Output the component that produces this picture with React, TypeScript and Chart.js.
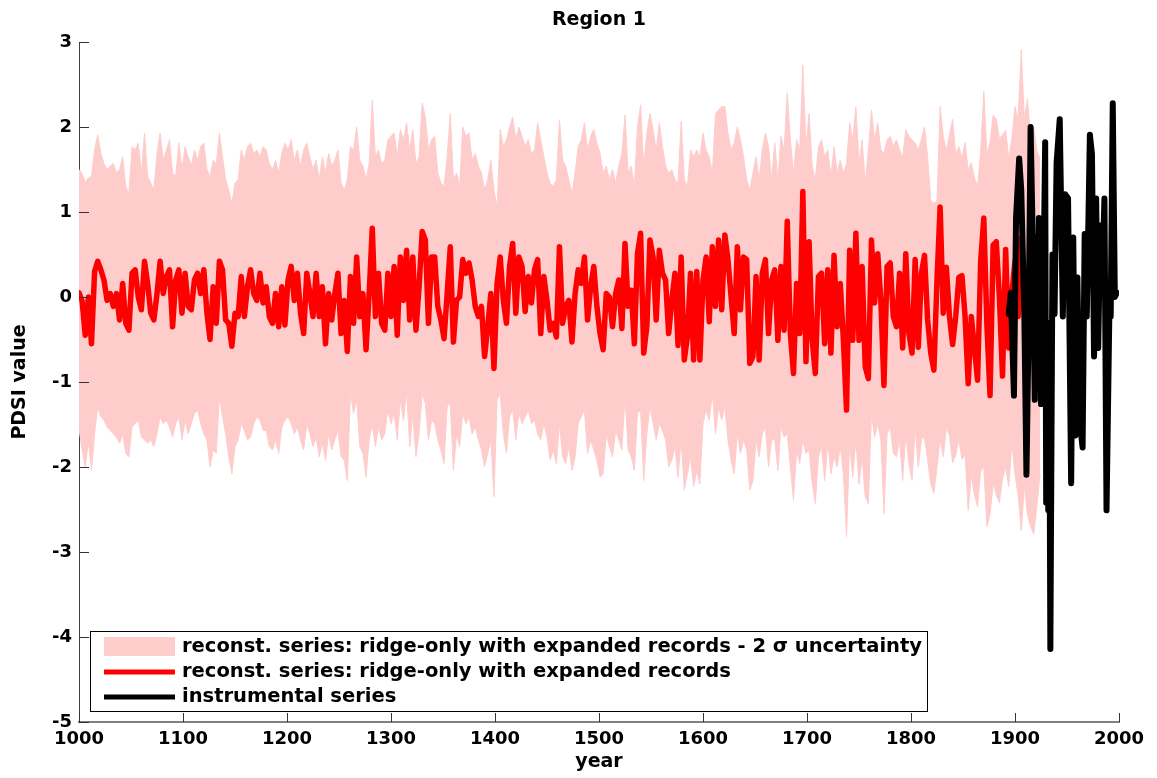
import React, { useEffect, useRef } from "react";
import { Chart, registerables } from "chart.js";

Chart.register(...registerables);

// Reconstruction sampled every 3 years starting at 1000
const RECON_START = 1000;
const RECON_STEP = 3;

// Reconstructed PDSI (red line), 1000-1906
const reconValues = [
  0.05, -0.05, -0.45, 0.0, -0.55, 0.3, 0.42, 0.32, 0.2, -0.04,
  0.04, -0.11, 0.04, -0.27, 0.16, -0.31, -0.39, 0.28, 0.32, 0.0,
  -0.15, 0.42, 0.16, -0.19, -0.27, 0.04, 0.42, 0.04, 0.24, 0.32,
  -0.35, 0.2, 0.32, -0.19, 0.28, -0.11, -0.15, 0.2, 0.28, 0.04,
  0.32, -0.19, -0.5, 0.12, -0.31, 0.42, 0.32, -0.27, -0.31, -0.58,
  -0.19, -0.23, 0.24, -0.23, 0.12, 0.32, 0.04, -0.04, 0.28, -0.07,
  0.12, -0.23, -0.31, 0.04, -0.35, 0.12, -0.33, 0.2, 0.36, -0.04,
  0.28, -0.19, -0.43, 0.28, 0.04, -0.23, 0.28, -0.23, 0.12, -0.55,
  0.04, -0.27, 0.04, 0.28, -0.43, -0.04, -0.64, 0.24, -0.31, 0.47,
  -0.23, 0.04, -0.62, 0.04, 0.81, -0.23, 0.28, -0.31, -0.39, 0.28,
  -0.23, 0.36, -0.45, 0.47, -0.04, 0.55, -0.27, 0.47, -0.39, 0.12,
  0.77, 0.67, -0.31, 0.47,
  0.47, -0.11, -0.27, -0.49, 0.04, 0.59, -0.53, -0.04, 0.0, 0.44,
  0.28, 0.4, 0.2, -0.11, -0.23, -0.11, -0.7, -0.35, 0.04, -0.84,
  0.16, 0.47, -0.04, -0.31, 0.36, 0.63, -0.19, 0.47, 0.36, -0.17,
  0.24, -0.07, 0.32, 0.44, -0.43, 0.24, -0.04, -0.39, -0.31, -0.47,
  0.59, -0.31, -0.11, -0.04, -0.53, 0.04, 0.32, 0.16, 0.47, -0.27,
  0.12, 0.36, -0.11, -0.43,
  -0.62, 0.04, 0.0, -0.35, 0.04, 0.2, -0.37, 0.63, -0.11, 0.08,
  -0.55, 0.51, 0.75, -0.66, -0.35, 0.67, 0.47, -0.27, 0.55, 0.28,
  0.2, -0.43, -0.04, 0.28, -0.57, 0.47, -0.74, -0.47, 0.28, -0.74,
  0.3, -0.74, 0.2, 0.47, -0.29, 0.59, -0.11, 0.67, -0.15, 0.73,
  0.44, 0.0, -0.43, 0.59, -0.15, 0.47, 0.44, -0.78, -0.7, 0.24,
  -0.74, 0.28, 0.44, -0.43, 0.2,
  0.32, -0.51, 0.36, -0.39, 0.89, -0.43, -0.9, 0.16, -0.43, 1.24,
  -0.76, 0.65, -0.51, -0.9, 0.24, 0.28, -0.55, 0.32, -0.66, 0.49,
  -0.35, 0.16, -0.51, -1.33, 0.55, -0.51, 0.75, -0.51, 0.36, -0.82,
  -0.96, 0.67, -0.07, 0.51, -0.04, -1.04, 0.36, 0.4, -0.23, -0.35,
  0.28, -0.6, 0.51, -0.43, -0.66, 0.44, -0.59, 0.28, 0.49, -0.27,
  -0.66, -0.86, 0.2, 1.06, -0.19,
  0.35, -0.23, -0.56, -0.23, 0.23, 0.25, -0.23, -1.02, -0.23, -0.6,
  -0.98, 0.42, 0.93, -0.33, -1.16, 0.61, 0.65, 0.0, -0.93, 0.56,
  -0.6, 0.05, 0.42, -0.23, 0.7,
];

// Upper edge of the 2-sigma band, 1000-1924
const bandUpper = [
  1.5, 1.45, 1.35, 1.4, 1.42, 1.73, 1.91, 1.69, 1.57, 1.5,
  1.54, 1.57, 1.46, 1.5, 1.65, 1.3, 1.22, 1.77, 1.73, 1.81,
  1.46, 1.93, 1.42, 1.34, 1.26, 1.69, 1.93, 1.61, 1.73, 1.85,
  1.46, 1.42, 1.81, 1.5, 1.77, 1.65, 1.54, 1.73, 1.61, 1.77,
  1.81, 1.5, 1.42, 1.61, 1.57, 1.93, 1.65, 1.38, 1.26, 1.1,
  1.34, 1.38, 1.73, 1.61, 1.77, 1.81, 1.69, 1.73, 1.65, 1.77,
  1.73, 1.57, 1.5, 1.61, 1.46, 1.69, 1.81, 1.73, 1.85, 1.61,
  1.73, 1.54, 1.73, 1.81, 1.65, 1.5, 1.61, 1.38, 1.65, 1.46,
  1.69, 1.54, 1.61, 1.73, 1.34, 1.26, 1.38, 1.77, 1.73, 2.0,
  1.61, 1.54, 1.38, 1.57, 2.32, 1.65, 1.73, 1.57, 1.61, 1.85,
  1.89, 1.93, 1.65, 1.97, 1.85, 2.05, 1.73, 1.97, 1.57, 1.65,
  2.28, 2.12, 1.73, 1.85,
  1.89, 1.46, 1.34, 1.3, 1.65, 2.16, 1.38, 1.46, 1.3, 2.0,
  1.89, 1.93, 1.61, 1.69, 1.54, 1.46, 1.26, 1.38, 1.61, 1.26,
  1.06, 1.97, 1.77, 1.85, 2.0, 2.12, 1.85, 2.0, 1.89, 1.77,
  1.85, 1.69, 1.73, 2.05, 1.85, 1.65, 1.46, 1.34, 1.3, 1.38,
  2.08, 1.61, 1.54, 1.38, 1.22, 1.46, 1.77, 1.85, 2.05, 1.73,
  1.89, 1.97, 1.81, 1.69,
  1.46, 1.54, 1.38, 1.5, 1.34, 1.54, 1.69, 2.14, 1.46, 1.54,
  1.3, 2.0, 2.26, 1.54, 1.93, 2.16, 1.97, 1.73, 2.05, 1.77,
  1.54, 1.46, 1.5, 1.38, 1.34, 2.07, 1.38, 1.3, 1.73, 1.65,
  1.73, 1.65, 1.93, 1.73, 1.65, 1.46, 2.16, 2.2, 2.24, 2.24,
  1.93, 1.73, 1.81, 2.0, 1.85, 1.65, 1.38, 1.26, 1.46, 1.65,
  1.38, 1.73, 1.93, 1.77, 1.38,
  1.81, 1.38, 1.89, 1.73, 2.4, 1.85, 1.46, 1.85, 1.73, 2.73,
  1.77, 2.16, 1.54, 1.38, 1.77, 1.85, 1.65, 1.73, 1.42, 1.77,
  1.46, 1.61, 1.46, 1.57, 2.05, 1.85, 2.24, 1.57, 1.85, 1.34,
  1.73, 2.2, 1.85, 2.05, 1.73, 1.69, 1.85, 1.89, 1.77, 1.85,
  1.73, 1.65, 1.97, 1.89, 1.85, 1.81, 1.73, 1.85, 2.0, 1.65,
  1.14, 1.1, 1.14, 2.24, 1.89,
  1.72, 1.91, 2.09, 1.68, 1.77, 1.63, 1.82, 1.49, 1.58, 1.4,
  1.3, 1.72, 2.42, 1.68, 1.82, 2.14, 2.09, 1.86, 1.91, 1.96,
  1.63, 1.86, 2.24, 2.09, 2.91, 2.09, 2.33, 1.86, 2.0, 1.72,
  1.63,
];

// Lower edge of the 2-sigma band, 1000-1924
const bandLower = [
  -1.55, -1.8, -2.0, -1.7, -2.04, -1.61, -1.29, -1.41, -1.45, -1.53,
  -1.57, -1.61, -1.65, -1.72, -1.61, -1.84, -1.88, -1.53, -1.49, -1.45,
  -1.65, -1.68, -1.72, -1.68, -1.76, -1.61, -1.41, -1.49, -1.45, -1.53,
  -1.65, -1.49, -1.41, -1.68, -1.45, -1.61, -1.49, -1.37, -1.33, -1.49,
  -1.61, -1.68, -2.0, -1.8, -1.84, -1.17, -1.41, -1.61, -1.88, -2.08,
  -1.76, -1.68, -1.49, -1.57, -1.68, -1.65, -1.49, -1.41, -1.45, -1.57,
  -1.57, -1.76, -1.8, -1.68, -1.84, -1.53, -1.45, -1.41, -1.49, -1.61,
  -1.53, -1.68, -1.8, -1.49, -1.61, -1.76, -1.65, -1.88, -1.72, -1.92,
  -1.61, -1.8, -1.68, -1.57, -1.88, -1.92, -2.16, -1.13, -1.37, -1.21,
  -1.76, -1.84, -2.12, -1.68, -1.49, -1.76, -1.53, -1.68, -1.61, -1.33,
  -1.49, -1.37, -1.68, -1.21, -1.45, -1.1, -1.76, -1.37, -1.88, -1.61,
  -1.13, -1.25, -1.68, -1.45,
  -1.49, -1.68, -1.8, -1.96, -1.29, -1.25, -2.04, -1.61, -1.76, -1.37,
  -1.49, -1.41, -1.61, -1.53, -1.68, -1.8, -2.0, -1.84, -1.68, -2.35,
  -1.21, -1.13, -1.61, -1.84, -1.41, -1.33, -1.68, -1.37, -1.49, -1.41,
  -1.33, -1.49, -1.45, -1.61, -1.68, -1.49, -1.65, -1.92, -1.8, -1.96,
  -1.49, -1.88, -1.96, -1.76, -2.04, -1.88, -1.49, -1.41, -1.33, -1.84,
  -1.68, -1.8, -1.92, -2.12,
  -2.08, -1.61, -1.76, -1.88, -1.57, -1.68, -1.8, -1.17, -1.8, -1.88,
  -2.04, -1.37, -1.33, -2.16, -1.61, -1.29, -1.49, -1.68, -1.49, -1.57,
  -1.68, -2.0, -1.92, -1.76, -2.12, -1.68, -2.27, -2.08, -1.88, -2.23,
  -2.04, -2.2, -1.49, -1.33, -1.45, -1.13, -1.61, -1.29, -1.45, -1.29,
  -1.68, -1.92, -2.08, -1.61, -1.84, -1.68, -1.8, -2.27, -2.16, -1.68,
  -1.88, -1.61, -1.53, -2.0, -1.68,
  -1.68, -2.04, -1.53, -1.65, -1.61, -2.0, -2.39, -1.8, -1.96, -1.68,
  -1.84, -1.8, -2.2, -2.43, -1.88, -1.76, -2.16, -1.72, -2.08, -1.88,
  -2.0, -1.76, -2.08, -2.82, -1.72, -2.12, -1.68, -2.2, -1.88, -2.35,
  -2.43, -1.37, -1.65, -1.49, -1.68, -2.55, -1.61, -1.53, -1.84, -1.88,
  -1.68, -2.16, -1.61, -1.96, -2.16, -1.53, -2.0, -1.68, -1.65, -1.92,
  -2.2, -2.31, -2.0, -1.68, -1.88,
  -1.54, -1.63, -1.95, -1.86, -1.68, -1.91, -1.86, -2.51, -2.09, -2.33,
  -2.47, -2.05, -2.0, -2.7, -2.56, -2.19, -2.33, -2.42, -2.14, -2.0,
  -2.23, -1.72, -2.09, -2.33, -2.75, -2.23, -2.56, -2.7, -2.79, -2.47,
  -2.09,
];

// Instrumental PDSI (black line)
const instYears = [
  1894, 1896, 1899, 1901, 1904, 1906, 1909, 1911, 1913, 1915,
  1917, 1919, 1920, 1922, 1923, 1925, 1927, 1929, 1930, 1931,
  1932, 1933, 1934, 1936, 1938, 1940, 1943, 1946, 1948, 1951,
  1954, 1956, 1958, 1960, 1962, 1965, 1967, 1969, 1972, 1974,
  1976, 1978, 1980, 1982, 1984, 1986, 1988, 1991, 1992, 1994,
  1996, 1998,
];
const instValues = [
  -0.2, 0.05, -1.16, 0.93, 1.63, 1.26, -0.23, -2.09, -0.46, 2.0,
  0.7, -1.21, 0.7, -0.93, 0.93, -1.26, -0.23, 1.82, -2.42, -0.3,
  -2.51, -0.8, -4.14, 0.5, -0.2, 1.58, 2.09, -0.23, 1.21, 1.16,
  -2.19, 0.7, -1.63, 0.23, -1.44, -1.77, 0.74, -0.23, 1.91, 1.68,
  -0.7, 1.16, -0.6, 0.84, 0.23, 1.16, -2.51, 0.05, -0.23, 2.28,
  0.0, 0.05,
];

const chartTitle = "Region 1";
const xAxisTitle = "year";
const yAxisTitle = "PDSI value";
const legendLabels = [
  "reconst. series: ridge-only with expanded records - 2 \u03c3 uncertainty",
  "reconst. series: ridge-only with expanded records",
  "instrumental series",
];

const PINK = "#ffcccc";
const RED = "#ff0000";
const BLACK = "#000000";
const FONT_FAMILY = '"DejaVu Sans", "Liberation Sans", Arial, sans-serif';

const toPoints = (vals: number[]) =>
  vals.map((v, i) => ({ x: RECON_START + i * RECON_STEP, y: v }));

// Inward tick marks, title and the boxed legend
const decorPlugin = {
  id: "decor",
  afterDatasetsDraw(chart: any) {
    const { ctx, chartArea, scales } = chart;
    ctx.save();
    ctx.strokeStyle = "#333333";
    ctx.lineWidth = 1;
    ctx.beginPath();
    for (const t of scales.x.ticks) {
      const px = Math.round(scales.x.getPixelForValue(t.value)) + 0.5;
      ctx.moveTo(px, chartArea.bottom);
      ctx.lineTo(px, chartArea.bottom - 9);
    }
    for (const t of scales.y.ticks) {
      const py = Math.round(scales.y.getPixelForValue(t.value)) + 0.5;
      ctx.moveTo(chartArea.left, py);
      ctx.lineTo(chartArea.left + 10, py);
    }
    ctx.stroke();
    ctx.restore();
  },
  afterDraw(chart: any) {
    const { ctx, chartArea } = chart;
    ctx.save();
    // title
    ctx.fillStyle = "#000";
    ctx.font = `bold 19px ${FONT_FAMILY}`;
    ctx.textAlign = "center";
    ctx.textBaseline = "middle";
    ctx.fillText(chartTitle, (chartArea.left + chartArea.right) / 2, 20);

    // legend box
    const bx = 90.5, by = 631.5, bw = 837, bh = 80;
    ctx.fillStyle = "#fff";
    ctx.fillRect(bx, by, bw, bh);
    ctx.strokeStyle = "#000";
    ctx.lineWidth = 1;
    ctx.strokeRect(bx, by, bw, bh);

    const rows = [646.5, 672, 697];
    ctx.fillStyle = PINK;
    ctx.fillRect(104, 637, 71, 19);
    ctx.lineCap = "butt";
    ctx.lineWidth = 5;
    ctx.strokeStyle = RED;
    ctx.beginPath();
    ctx.moveTo(104, rows[1]);
    ctx.lineTo(175, rows[1]);
    ctx.stroke();
    ctx.strokeStyle = BLACK;
    ctx.beginPath();
    ctx.moveTo(104, rows[2]);
    ctx.lineTo(175, rows[2]);
    ctx.stroke();

    ctx.fillStyle = "#000";
    ctx.font = `bold 19.5px ${FONT_FAMILY}`;
    ctx.textAlign = "left";
    ctx.textBaseline = "middle";
    legendLabels.forEach((txt, i) => ctx.fillText(txt, 182, rows[i]));
    ctx.restore();
  },
};

export default function App() {
  const canvasRef = useRef<HTMLCanvasElement | null>(null);

  useEffect(() => {
    document.body.style.margin = "0";
    const canvas = canvasRef.current;
    if (!canvas) return;

    const tickFont = { family: FONT_FAMILY, size: 18, weight: "bold" as const };
    const titleFont = { family: FONT_FAMILY, size: 19, weight: "bold" as const };

    const chart = new Chart(canvas, {
      type: "line",
      data: {
        datasets: [
          {
            label: legendLabels[2],
            data: instYears.map((yr, i) => ({ x: yr, y: instValues[i] })),
            borderColor: BLACK,
            borderWidth: 6,
            pointRadius: 0,
            fill: false,
            borderJoinStyle: "round",
            borderCapStyle: "round",
            order: 0,
          },
          {
            label: legendLabels[1],
            data: toPoints(reconValues),
            borderColor: RED,
            borderWidth: 5.5,
            pointRadius: 0,
            fill: false,
            borderJoinStyle: "round",
            borderCapStyle: "round",
            order: 1,
          },
          {
            label: legendLabels[0],
            data: toPoints(bandUpper),
            borderColor: PINK,
            backgroundColor: PINK,
            borderWidth: 1,
            pointRadius: 0,
            fill: 3,
            order: 2,
          },
          {
            label: "band lower",
            data: toPoints(bandLower),
            borderColor: PINK,
            backgroundColor: PINK,
            borderWidth: 1,
            pointRadius: 0,
            fill: false,
            order: 3,
          },
        ],
      },
      options: {
        animation: false,
        responsive: false,
        devicePixelRatio: 1,
        events: [],
        layout: { padding: { top: 42, right: 38, left: 0, bottom: 0 } },
        plugins: {
          legend: { display: false },
          title: { display: false },
          tooltip: { enabled: false },
        },
        scales: {
          x: {
            type: "linear",
            min: 1000,
            max: 2000,
            z: 1,
            grid: { display: false, drawTicks: false },
            border: { display: true, color: "#808080", width: 2 },
            ticks: {
              stepSize: 100,
              padding: 7,
              color: "#000",
              font: tickFont,
              maxRotation: 0,
              autoSkip: false,
              callback: (v: any) => String(v),
            },
            title: {
              display: true,
              text: xAxisTitle,
              color: "#000",
              font: titleFont,
              padding: { top: 0, bottom: 4.6 },
            },
            afterFit: (s: any) => {
              s.height = 56;
            },
          },
          y: {
            type: "linear",
            min: -5,
            max: 3,
            z: 1,
            grid: { display: false, drawTicks: false },
            border: { display: true, color: "#404040", width: 1 },
            ticks: {
              stepSize: 1,
              padding: 7,
              color: "#000",
              font: tickFont,
              callback: (v: any) => String(v),
            },
            title: {
              display: true,
              text: yAxisTitle,
              color: "#000",
              font: titleFont,
              padding: { top: 8.6, bottom: 0 },
            },
            afterFit: (s: any) => {
              s.width = 79;
            },
          },
        },
      },
      plugins: [decorPlugin],
    });

    return () => chart.destroy();
  }, []);

  return (
    <div
      style={{
        position: "absolute",
        left: 0,
        top: 0,
        width: 1157,
        height: 778,
        background: "#fff",
      }}
    >
      <canvas
        ref={canvasRef}
        width={1157}
        height={778}
        style={{ width: 1157, height: 778, display: "block" }}
      />
    </div>
  );
}
